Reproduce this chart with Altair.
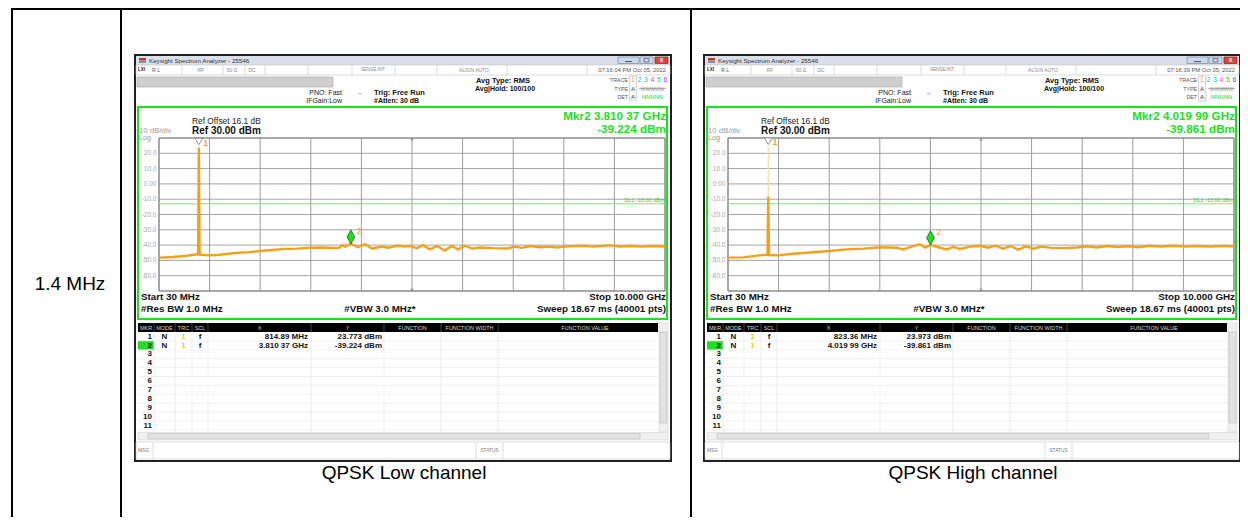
import altair as alt
import pandas as pd

# ---------------- values ----------------
start_ghz = 0.03
stop_ghz = 10.0
ref_level_dbm = 30.0
bottom_level_dbm = -70.0
display_line_dbm = -13.0
grid_levels_dbm = [30, 20, 10, 0, -10, -20, -30, -40, -50, -60, -70]
y_tick_levels = [20, 10, 0, -10, -20, -30, -40, -50, -60]
y_tick_labels = ["20.0", "10.0", "0.00", "-10.0", "-20.0", "-30.0", "-40.0", "-50.0", "-60.0"]

low_freq_ghz = [0.03, 0.05, 0.30, 0.54, 0.80, 0.815, 0.83, 1.00, 1.19, 1.53, 1.80, 2.02, 2.25,
                2.51, 2.75, 3.03, 3.25, 3.50, 3.58, 3.64, 3.70, 3.81, 3.95, 4.09, 4.23, 4.33,
                4.42, 4.54, 4.74, 4.86, 4.98, 5.11, 5.23, 5.37, 5.51, 5.66, 5.80, 5.92, 6.06,
                6.20, 6.36, 6.61, 6.89, 7.04, 7.18, 7.34, 7.54, 7.73, 7.87, 8.07, 8.38, 8.58,
                8.92, 9.11, 9.31, 9.57, 9.76, 10.0]
low_level_dbm = [-48.3, -48.2, -47.8, -47.1, -46.0, 23.773, -46.2, -46.6, -46.5, -45.2, -44.6,
                 -43.9, -43.2, -42.5, -42.3, -41.7, -41.6, -41.9, -41.8, -40.0, -41.0, -39.2,
                 -41.4, -39.3, -42.3, -41.6, -41.0, -41.7, -40.4, -41.0, -40.6, -42.1, -40.0,
                 -42.8, -40.6, -43.6, -40.6, -42.8, -40.4, -42.3, -41.6, -42.0, -42.2, -41.0,
                 -41.8, -40.6, -41.4, -41.0, -41.6, -40.8, -40.4, -41.0, -40.2, -41.0, -40.6,
                 -41.0, -40.6, -40.9]

high_freq_ghz = [0.03, 0.33, 0.60, 0.808, 0.823, 0.838, 1.02, 1.25, 1.58, 2.03, 2.37, 2.70,
                 3.03, 3.35, 3.48, 3.65, 3.81, 3.91, 4.02, 4.17, 4.34, 4.47, 4.60, 4.80, 4.99,
                 5.16, 5.30, 5.45, 5.60, 5.75, 5.90, 6.05, 6.20, 6.40, 6.65, 6.90, 7.10, 7.30,
                 7.50, 7.70, 7.90, 8.10, 8.35, 8.55, 8.80, 9.05, 9.30, 9.55, 9.80, 10.0]
high_level_dbm = [-48.2, -48.0, -46.9, -46.2, -8.4, -46.5, -46.7, -45.8, -45.0, -43.9, -42.8,
                  -42.3, -41.4, -41.7, -42.8, -41.0, -39.5, -41.7, -39.9, -41.4, -42.8, -41.2,
                  -42.5, -41.0, -40.4, -41.7, -40.4, -42.3, -40.6, -43.0, -40.8, -42.4, -41.0,
                  -41.8, -42.0, -41.6, -40.8, -41.6, -40.6, -41.2, -40.8, -41.4, -40.4, -41.0,
                  -40.4, -41.0, -40.6, -41.0, -40.5, -40.9]

low_marker_mhz = [814.89, 3810.37]
low_marker_dbm = [23.773, -39.224]
high_marker_mhz = [823.36, 4019.99]
high_marker_dbm = [23.973, -39.861]
high_spike_solid_top_dbm = -8.4

captions = ["QPSK Low channel", "QPSK High channel"]
timestamps = ["07:16:04 PM Oct 05, 2022", "07:16:39 PM Oct 05, 2022"]
row_label = "1.4 MHz"
trace_numbers = ["1", "2", "3", "4", "5", "6"]
trace_colors = ["#f0a020", "#1fa8e8", "#22c4c4", "#e040c8", "#38c838", "#8a46ee"]
table_header = ["MKR", "MODE", "TRC", "SCL", "X", "Y", "FUNCTION", "FUNCTION WIDTH", "FUNCTION VALUE"]
row_numbers = ["1", "2", "3", "4", "5", "6", "7", "8", "9", "10", "11"]


def fmt_x(mhz):
    if mhz >= 1000:
        s = f"{mhz / 1000:.5f}"
        return f"{s[:-2]} {s[-2:]} GHz"
    return f"{mhz:.2f} MHz"


def fmt_y(dbm):
    return f"{dbm:.3f} dBm"


# ---------------- layout (page pixel frame) ----------------
W, H = 1232, 509
PX = alt.Scale(domain=[8, 8 + W], range=[0, W])
PY = alt.Scale(domain=[8, 8 + H], range=[0, H])
FONT = "Liberation Sans"
GREEN = "#1fe01f"
ORANGE = "#f6a01a"

rects, rules = [], []
texts = {}


def R(x, y, x2, y2, fill, stroke="transparent", sw=0.0):
    rects.append(dict(x=x, y=y, x2=x2, y2=y2, fill=fill, stroke=stroke, sw=sw))


def L(x, y, x2, y2, color, sw=1.0):
    rules.append(dict(x=x, y=y, x2=x2, y2=y2, color=color, sw=sw))


def T(x, y, text, fs, color="#111111", weight="normal", align="left"):
    texts.setdefault((weight, align), []).append(dict(x=x, y=y, text=text, fs=fs, color=color))


# document table
L(12, 8.8, 1241, 8.8, "#000000", 2.5)
for vx in [12, 121, 691, 1241]:
    L(vx, 8, vx, 525, "#000000", 2)
T(70, 284, row_label, 19, "#000000", "normal", "center")


def screen(ox, stamp, mk_mhz, mk_dbm, caption):
    oy = 55

    def X(d):
        return ox + d

    def Y(d):
        return oy + d

    R(X(0), Y(0), X(536), Y(406), "#ffffff", "#202020", 2)
    # title bar
    R(X(1), Y(1), X(535), Y(10), "#d9e0ea")
    R(X(4), Y(3), X(11), Y(5.5), "#c0392b")
    R(X(4), Y(5.5), X(11), Y(8), "#8a8f96")
    T(X(14), Y(5.5), "Keysight Spectrum Analyzer - 25546", 6.2, "#333333")
    R(X(483), Y(2), X(504), Y(8.5), "#cdd9e8", "#7b8ca3", 0.7)
    R(X(505), Y(2), X(518), Y(8.5), "#cdd9e8", "#7b8ca3", 0.7)
    R(X(520), Y(2), X(533), Y(8.5), "#d8473c", "#8b2a22", 0.7)
    L(X(490), Y(6.6), X(497), Y(6.6), "#44506a", 1)
    R(X(509), Y(3.6), X(514), Y(7), "transparent", "#44506a", 0.7)
    T(X(526.5), Y(5.0), "x", 6.5, "#ffffff", "bold", "center")
    # menu row
    R(X(1), Y(10), X(535), Y(20), "#ffffff", "#c4c4c4", 0.6)
    for d in [47, 88, 110, 130, 173, 217, 260, 302, 372, 452]:
        L(X(d), Y(10), X(d), Y(20), "#c8c8c8", 0.6)
    T(X(3), Y(15), "LXI", 4.5, "#222222", "bold")
    T(X(17), Y(15), "R L", 5.3, "#555555")
    T(X(66), Y(15), "RF", 5, "#888888", "normal", "center")
    T(X(97), Y(15), "50 \u03a9", 5, "#888888", "normal", "center")
    T(X(117), Y(15), "DC", 5, "#888888", "normal", "center")
    T(X(238), Y(15), "SENSE:INT", 4.6, "#888888", "normal", "center")
    T(X(339), Y(15), "ALIGN AUTO", 5, "#888888", "normal", "center")
    T(X(531), Y(15), stamp, 5.8, "#555555", "normal", "right")
    # info area
    R(X(2), Y(22), X(198), Y(32), "#cfcfcf", "#a4a4a4", 0.6)
    T(X(207), Y(38), "PNO: Fast", 7, "#222222", "normal", "right")
    T(X(207), Y(45.5), "IFGain:Low", 7, "#222222", "normal", "right")
    T(X(225), Y(38), "\u2194", 6, "#444444", "normal", "center")
    T(X(239), Y(38), "Trig: Free Run", 7.5, "#111111", "bold")
    T(X(239), Y(45.5), "#Atten: 30 dB", 7, "#111111", "bold")
    T(X(368), Y(26), "Avg Type: RMS", 7.5, "#111111", "bold", "center")
    T(X(370), Y(34), "Avg|Hold: 100/100", 7, "#111111", "bold", "center")
    T(X(493), Y(25), "TRACE", 5.3, "#555555", "normal", "right")
    T(X(493), Y(33.5), "TYPE", 5.3, "#555555", "normal", "right")
    T(X(493), Y(42), "DET", 5.3, "#555555", "normal", "right")
    R(X(494.5), Y(21), X(501.5), Y(46), "transparent", "#a8a8a8", 0.5)
    for i, (n, c) in enumerate(zip(trace_numbers, trace_colors)):
        T(X(498 + 6.5 * i), Y(25), n, 7, c, "normal", "center")
    T(X(498), Y(33.5), "A", 6, "#333333", "normal", "center")
    T(X(517.5), Y(33.5), "WWWWW", 5, "#8a8a8a", "normal", "center")
    L(X(504), Y(33.5), X(531), Y(33.5), "#8a8a8a", 0.6)
    T(X(498), Y(42), "A", 6, "#333333", "normal", "center")
    T(X(517.5), Y(42), "NNNNN", 6, "#22cc22", "normal", "center")
    # measurement frame
    R(X(3), Y(52), X(532), Y(264), "#ffffff", GREEN, 2)
    T(X(57), Y(66), "Ref Offset 16.1 dB", 8.4, "#222222")
    T(X(57), Y(76), "Ref 30.00 dBm", 10, "#111111", "bold")
    T(X(4), Y(75.5), "10 dB/div", 7.8, "#9a9a9a")
    T(X(4), Y(82.8), "Log", 7.2, "#9a9a9a")
    T(X(531), Y(61), "Mkr2 " + fmt_x(mk_mhz[1]), 11.7, "#22dd22", "bold", "right")
    T(X(531), Y(74), fmt_y(mk_dbm[1]), 11.7, "#22dd22", "bold", "right")
    T(X(6), Y(242), "Start 30 MHz", 9.8, "#111111", "bold")
    T(X(6), Y(254), "#Res BW 1.0 MHz", 9.8, "#111111", "bold")
    T(X(245), Y(254), "#VBW 3.0 MHz*", 9.8, "#111111", "bold", "center")
    T(X(531), Y(242), "Stop 10.000 GHz", 9.8, "#111111", "bold", "right")
    T(X(531), Y(254), "Sweep  18.67 ms (40001 pts)", 9.8, "#111111", "bold", "right")
    # marker table
    R(X(3), Y(268), X(523), Y(277), "#000000")
    col_sep = [19, 40, 57, 73, 176, 249, 306, 363]
    for d in col_sep:
        L(X(d), Y(268), X(d), Y(277), "#777777", 0.6)
        L(X(d), Y(277), X(d), Y(377), "#e2e2e2", 0.6)
    head_x = [11, 29.5, 48.5, 65, 124.5, 212.5, 277.5, 334.5, 450]
    for hx, ht in zip(head_x, table_header):
        T(X(hx), Y(272.5), ht, 5.5, "#d8d8d8", "normal", "center")
    for i in range(11):
        L(X(3), Y(277 + 8.9 * (i + 1)), X(523), Y(277 + 8.9 * (i + 1)), "#e6e6e6", 0.6)
    R(X(3), Y(277 + 8.9), X(19), Y(277 + 17.8), "#22dd22")
    for i, rn in enumerate(row_numbers):
        T(X(17), Y(281.6 + 8.9 * i), rn, 8, "#111111", "bold", "right")
    for i in range(2):
        yy = Y(281.6 + 8.9 * i)
        T(X(29.5), yy, "N", 8, "#111111", "bold", "center")
        T(X(48.5), yy, "1", 8, "#e6d200", "bold", "center")
        T(X(65), yy, "f", 8, "#111111", "bold", "center")
        T(X(173), yy, fmt_x(mk_mhz[i]), 8, "#111111", "bold", "right")
        T(X(247), yy, fmt_y(mk_dbm[i]), 8, "#111111", "bold", "right")
    # scroll bars
    R(X(524), Y(268), X(533), Y(377), "#f0f0f0", "#cfcfcf", 0.5)
    R(X(525), Y(277), X(532), Y(368), "#e2e2e2", "#b4b4b4", 0.5)
    R(X(3), Y(377.5), X(533), Y(385), "#f0f0f0", "#cfcfcf", 0.5)
    R(X(13), Y(378.5), X(505), Y(384), "#e2e2e2", "#b8b8b8", 0.5)
    # message bar
    R(X(1), Y(387), X(535), Y(404), "#ffffff", "#c8c8c8", 0.6)
    for d in [18, 341, 368]:
        L(X(d), Y(387), X(d), Y(404), "#c8c8c8", 0.6)
    T(X(3), Y(395.5), "MSG", 4.8, "#777777")
    T(X(354.5), Y(395.5), "STATUS", 4.8, "#777777", "normal", "center")
    # caption under the screenshot
    T(X(269), 473, caption, 19, "#000000", "normal", "center")


PANELS = [(135, low_freq_ghz, low_level_dbm, low_marker_mhz, low_marker_dbm, None),
          (704, high_freq_ghz, high_level_dbm, high_marker_mhz, high_marker_dbm,
           high_spike_solid_top_dbm)]

for k, p in enumerate(PANELS):
    screen(p[0], timestamps[k], p[3], p[4], captions[k])


def rect_layer(rows):
    return alt.Chart(pd.DataFrame(rows)).mark_rect().encode(
        x=alt.X("x:Q", scale=PX, axis=None), x2="x2:Q",
        y=alt.Y("y:Q", scale=PY, axis=None), y2="y2:Q",
        fill=alt.Fill("fill:N", scale=None),
        stroke=alt.Stroke("stroke:N", scale=None),
        strokeWidth=alt.StrokeWidth("sw:Q", scale=None))


def rule_layer(rows):
    return alt.Chart(pd.DataFrame(rows)).mark_rule().encode(
        x=alt.X("x:Q", scale=PX, axis=None), x2="x2:Q",
        y=alt.Y("y:Q", scale=PY, axis=None), y2="y2:Q",
        color=alt.Color("color:N", scale=None),
        strokeWidth=alt.StrokeWidth("sw:Q", scale=None))


def text_layers():
    out = []
    for (weight, align), rows in texts.items():
        out.append(alt.Chart(pd.DataFrame(rows)).mark_text(
            align=align, baseline="middle", font=FONT, fontWeight=weight).encode(
            x=alt.X("x:Q", scale=PX, axis=None),
            y=alt.Y("y:Q", scale=PY, axis=None),
            text="text:N",
            color=alt.Color("color:N", scale=None),
            size=alt.Size("fs:Q", scale=None)))
    return out


def panel_layers(ox, freqs, levels, mk_mhz, mk_dbm, solid_top):
    SX = alt.Scale(domain=[start_ghz, stop_ghz], range=[ox + 24 - 8, ox + 530 - 8])
    SY = alt.Scale(domain=[bottom_level_dbm, ref_level_dbm], range=[291 - 8, 138 - 8])
    step = (stop_ghz - start_ghz) / 10
    layers = []
    hgrid = pd.DataFrame({"lvl": grid_levels_dbm, "f0": start_ghz, "f1": stop_ghz})
    layers.append(alt.Chart(hgrid).mark_rule(color="#a4a4a4", strokeWidth=1).encode(
        x=alt.X("f0:Q", scale=SX, axis=None), x2="f1:Q",
        y=alt.Y("lvl:Q", scale=SY, axis=None)))
    vgrid = pd.DataFrame({"f": [start_ghz + step * i for i in range(11)],
                          "lo": bottom_level_dbm, "hi": ref_level_dbm})
    layers.append(alt.Chart(vgrid).mark_rule(color="#9c9c9c", strokeWidth=1).encode(
        x=alt.X("f:Q", scale=SX, axis=None),
        y=alt.Y("lo:Q", scale=SY, axis=None), y2="hi:Q"))
    border = pd.DataFrame({"f0": [start_ghz], "f1": [stop_ghz],
                           "lo": [bottom_level_dbm], "hi": [ref_level_dbm]})
    layers.append(alt.Chart(border).mark_rect(fill="transparent", stroke="#808080",
                                               strokeWidth=1).encode(
        x=alt.X("f0:Q", scale=SX, axis=None), x2="f1:Q",
        y=alt.Y("lo:Q", scale=SY, axis=None), y2="hi:Q"))
    dl = pd.DataFrame({"lvl": [display_line_dbm], "f0": [start_ghz], "f1": [stop_ghz]})
    layers.append(alt.Chart(dl).mark_rule(color="#7fe27f", strokeWidth=1).encode(
        x=alt.X("f0:Q", scale=SX, axis=None), x2="f1:Q",
        y=alt.Y("lvl:Q", scale=SY, axis=None)))
    dl_lab = pd.DataFrame({"px": [ox + 529.5], "lvl": [display_line_dbm],
                           "t": [f"DL1 {display_line_dbm:.2f} dBm"]})
    layers.append(alt.Chart(dl_lab).mark_text(align="right", baseline="middle", dy=-3.5,
                                              fontSize=5.5, color="#33cc33", font=FONT).encode(
        x=alt.X("px:Q", scale=PX, axis=None),
        y=alt.Y("lvl:Q", scale=SY, axis=None), text="t:N"))
    ticks = pd.DataFrame({"px": ox + 21.5, "lvl": y_tick_levels, "t": y_tick_labels})
    layers.append(alt.Chart(ticks).mark_text(align="right", baseline="middle", fontSize=6.5,
                                             color="#a8a8a8", font=FONT).encode(
        x=alt.X("px:Q", scale=PX, axis=None),
        y=alt.Y("lvl:Q", scale=SY, axis=None), text="t:N"))
    centre = pd.DataFrame({"f": [(start_ghz + stop_ghz) / 2] * 2,
                           "lvl": [ref_level_dbm, bottom_level_dbm],
                           "shape": ["triangle-down", "triangle-up"],
                           "off": [2.0, -2.0]})
    for i in range(2):
        layers.append(alt.Chart(centre.iloc[[i]]).mark_point(
            filled=True, color="#8a8a8a", size=18, shape=centre["shape"][i],
            yOffset=float(centre["off"][i])).encode(
            x=alt.X("f:Q", scale=SX, axis=None), y=alt.Y("lvl:Q", scale=SY, axis=None)))
    if solid_top is not None:
        faint = pd.DataFrame({"f": [mk_mhz[0] / 1000], "lo": [solid_top], "hi": [mk_dbm[0]]})
        layers.append(alt.Chart(faint).mark_rule(color="#fbd9a0", strokeWidth=1.2).encode(
            x=alt.X("f:Q", scale=SX, axis=None),
            y=alt.Y("lo:Q", scale=SY, axis=None), y2="hi:Q"))
    trace = pd.DataFrame({"f": freqs, "dbm": levels})
    layers.append(alt.Chart(trace).mark_line(color=ORANGE, strokeWidth=2.4).encode(
        x=alt.X("f:Q", scale=SX, axis=None), y=alt.Y("dbm:Q", scale=SY, axis=None)))
    m1 = pd.DataFrame({"f": [mk_mhz[0] / 1000], "dbm": [mk_dbm[0]], "t": ["1"]})
    layers.append(alt.Chart(m1).mark_point(shape="triangle-down", filled=True, fill="#ffffff",
                                           stroke="#7a7a7a", strokeWidth=0.8, size=60,
                                           opacity=1, yOffset=-6).encode(
        x=alt.X("f:Q", scale=SX, axis=None), y=alt.Y("dbm:Q", scale=SY, axis=None)))
    layers.append(alt.Chart(m1).mark_text(align="left", baseline="middle", dx=4.5, dy=-5,
                                          fontSize=8.5, fontWeight="bold", color=ORANGE,
                                          font=FONT).encode(
        x=alt.X("f:Q", scale=SX, axis=None), y=alt.Y("dbm:Q", scale=SY, axis=None),
        text="t:N"))
    m2 = pd.DataFrame({"f": [mk_mhz[1] / 1000], "dbm": [mk_dbm[1]], "t": ["2"]})
    layers.append(alt.Chart(m2).mark_point(shape="M0,-1L0.55,0L0,1L-0.55,0Z", filled=True,
                                           fill="#22dd22", stroke="#0f6a0f", strokeWidth=0.8,
                                           size=196, opacity=1, yOffset=-7).encode(
        x=alt.X("f:Q", scale=SX, axis=None), y=alt.Y("dbm:Q", scale=SY, axis=None)))
    layers.append(alt.Chart(m2).mark_text(align="left", baseline="middle", dx=6, dy=-13,
                                          fontSize=8.5, color=ORANGE, font=FONT).encode(
        x=alt.X("f:Q", scale=SX, axis=None), y=alt.Y("dbm:Q", scale=SY, axis=None),
        text="t:N"))
    return layers


all_layers = [rect_layer(rects), rule_layer(rules)]
for p in PANELS:
    all_layers += panel_layers(*p)
all_layers += text_layers()

chart = alt.layer(*all_layers).resolve_scale(
    x="independent", y="independent"
).properties(
    width=W, height=H, autosize=alt.AutoSizeParams(type="none"), padding=0,
    background="#ffffff"
).configure_view(stroke=None)

chart.save("out.html", embed_options={"renderer": "svg", "actions": False})
